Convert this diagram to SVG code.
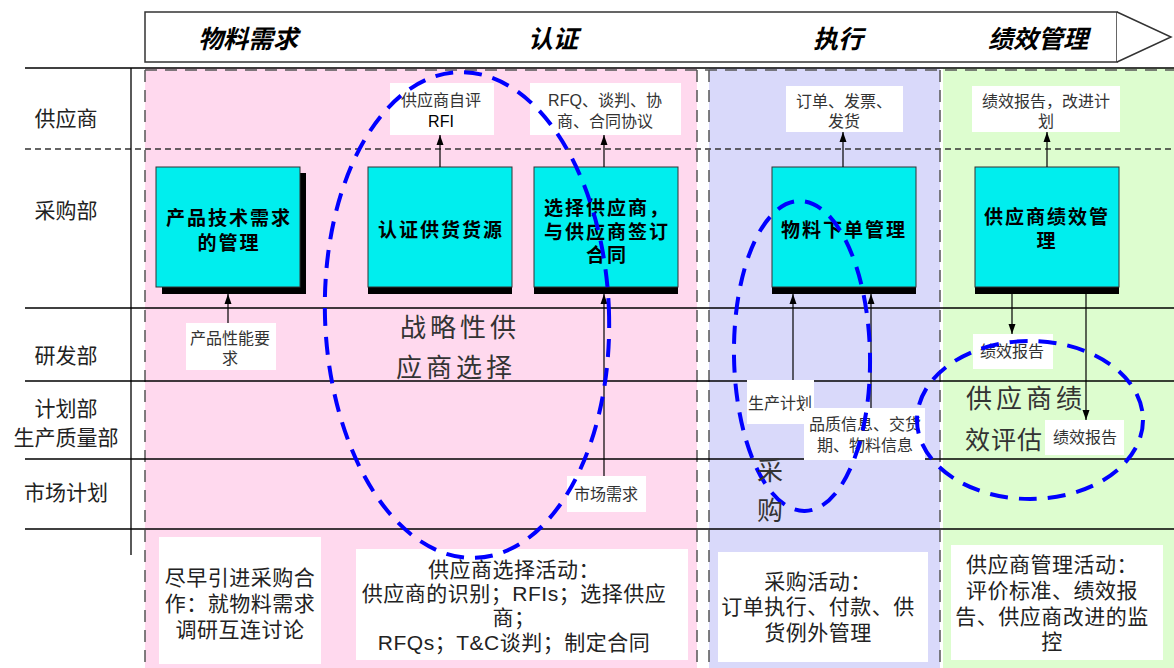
<svg xmlns="http://www.w3.org/2000/svg" width="1174" height="668" viewBox="0 0 1174 668">
<defs>
<marker id="ah" viewBox="0 0 10 10" refX="10" refY="5" markerWidth="10" markerHeight="10" markerUnits="userSpaceOnUse" orient="auto">
<path d="M0,1.5 L10,5 L0,8.5 Z" fill="#000"/>
</marker>
<style>
.t{font-family:"Liberation Sans","Noto Sans CJK SC",sans-serif;fill:#222;text-anchor:middle}
.hd{font-family:"Liberation Sans","Noto Sans CJK SC",sans-serif;font-size:25px;font-style:italic;font-weight:bold;fill:#000;text-anchor:middle}
.row{font-size:21px}
.bx{font-family:"Liberation Sans","Noto Sans CJK SC",sans-serif;font-size:19px;font-weight:bold;fill:#000;text-anchor:middle;letter-spacing:2px}
.sm{font-size:16px;fill:#333}
.big{font-size:26px;fill:#333;letter-spacing:4px}
.bt{font-size:21px;fill:#222;letter-spacing:0.5px}
.lbl{fill:#fff}
.node{fill:#00EEEE;stroke:#333;stroke-width:1}
.sh{fill:#000}
.grid{stroke:#000;stroke-width:1.3;fill:none}
.dash{stroke:#333;stroke-width:1.3;stroke-dasharray:6,4;fill:none}
.col{stroke:#555;stroke-width:1.5;stroke-dasharray:12,8;fill:none}
.ell{fill:none;stroke:#0000FF;stroke-width:4;stroke-dasharray:18,11}
.ar{stroke:#000;stroke-width:1.2;fill:none;marker-end:url(#ah)}
</style>
</defs>
<rect width="1174" height="668" fill="#fff"/>
<!-- column backgrounds -->
<rect x="145" y="68" width="552" height="600" fill="#FFD9EE"/>
<rect x="709" y="68" width="231" height="600" fill="#D9D9FA"/>
<rect x="943" y="68" width="231" height="600" fill="#DDFDCF"/>
<g id="columns">
<line class="col" x1="145" y1="70" x2="145" y2="668"/>
<line class="col" x1="697" y1="70" x2="697" y2="668"/>
<line class="col" x1="709" y1="70" x2="709" y2="668"/>
<line class="col" x1="940" y1="70" x2="940" y2="668"/>
<line class="col" x1="145" y1="70" x2="1174" y2="70"/>
</g>
<!-- header arrow -->
<g id="header">
<rect x="145" y="12" width="972" height="50" fill="#fff" stroke="#333" stroke-width="1.5"/>
<polyline points="1117,12 1171,37 1117,62" fill="#fff" stroke="#333" stroke-width="1.5"/>
<text class="hd" x="248" y="48">物料需求</text>
<text class="hd" x="553" y="48">认证</text>
<text class="hd" x="838" y="48">执行</text>
<text class="hd" x="1038" y="48">绩效管理</text>
</g>
<!-- grid -->
<g id="grid">
<line class="grid" x1="25" y1="68" x2="1174" y2="68"/>
<line class="dash" x1="25" y1="149" x2="1174" y2="149"/>
<line class="grid" x1="25" y1="308" x2="1174" y2="308"/>
<line class="grid" x1="25" y1="381" x2="1174" y2="381"/>
<line class="grid" x1="25" y1="459" x2="1174" y2="459"/>
<line class="grid" x1="25" y1="529" x2="1174" y2="529"/>
<line class="grid" x1="131" y1="68" x2="131" y2="555"/>
</g>
<!-- row labels -->
<g id="rows">
<text class="t row" x="66" y="126">供应商</text>
<text class="t row" x="66" y="218">采购部</text>
<text class="t row" x="66" y="363">研发部</text>
<text class="t row" x="66" y="416">计划部</text>
<text class="t row" x="66" y="445">生产质量部</text>
<text class="t row" x="66" y="500">市场计划</text>
</g>
<!-- bottom activity boxes -->
<g id="act1">
<rect class="lbl" x="159" y="537" width="162" height="127"/>
<text class="t bt" x="240" y="585">尽早引进采购合</text>
<text class="t bt" x="240" y="611">作：就物料需求</text>
<text class="t bt" x="240" y="637">调研互连讨论</text>
</g>
<g id="act2">
<rect class="lbl" x="356" y="549" width="332" height="111"/>
<text class="t bt" x="514" y="577">供应商选择活动：</text>
<text class="t bt" x="514" y="601">供应商的识别；RFIs；选择供应</text>
<text class="t bt" x="514" y="625">商；</text>
<text class="t bt" x="514" y="650">RFQs；T&amp;C谈判；制定合同</text>
</g>
<g id="act3">
<rect class="lbl" x="718" y="552" width="210" height="110"/>
<text class="t bt" x="818" y="589">采购活动：</text>
<text class="t bt" x="818" y="614">订单执行、付款、供</text>
<text class="t bt" x="818" y="640">货例外管理</text>
</g>
<g id="act4">
<rect class="lbl" x="951" y="545" width="212" height="115"/>
<text class="t bt" x="1052" y="572">供应商管理活动：</text>
<text class="t bt" x="1052" y="598">评价标准、绩效报</text>
<text class="t bt" x="1052" y="624">告、供应商改进的监</text>
<text class="t bt" x="1052" y="649">控</text>
</g>
<!-- process boxes -->
<g id="box1">
<rect class="sh" x="162" y="173" width="144" height="121"/>
<rect class="node" x="156" y="167" width="144" height="120"/>
<text class="bx" x="229" y="225">产品技术需求</text>
<text class="bx" x="229" y="250">的管理</text>
</g>
<g id="box2">
<rect class="sh" x="368" y="280" width="144" height="14"/>
<rect class="node" x="368" y="167" width="144" height="120"/>
<text class="bx" x="441" y="237">认证供货货源</text>
</g>
<g id="box3">
<rect class="sh" x="534" y="280" width="144" height="14"/>
<rect class="node" x="534" y="167" width="144" height="120"/>
<text class="bx" x="607" y="215">选择供应商，</text>
<text class="bx" x="607" y="239">与供应商签订</text>
<text class="bx" x="607" y="262">合同</text>
</g>
<g id="box4">
<rect class="sh" x="772" y="280" width="144" height="14"/>
<rect class="node" x="772" y="167" width="144" height="120"/>
<text class="bx" x="844" y="237">物料下单管理</text>
</g>
<g id="box5">
<rect class="sh" x="975" y="280" width="144" height="14"/>
<rect class="node" x="975" y="167" width="144" height="120"/>
<text class="bx" x="1047" y="224">供应商绩效管</text>
<text class="bx" x="1047" y="248">理</text>
</g>
<!-- connectors -->
<g id="connectors">
<line class="ar" x1="440" y1="167" x2="440" y2="135"/>
<line class="ar" x1="604" y1="167" x2="604" y2="135"/>
<line class="ar" x1="843" y1="167" x2="843" y2="132"/>
<line class="ar" x1="1047" y1="167" x2="1047" y2="132"/>
<line class="ar" x1="228" y1="323" x2="228" y2="294"/>
<line class="ar" x1="604" y1="476" x2="604" y2="294"/>
<line class="ar" x1="793" y1="380" x2="793" y2="294"/>
<line class="ar" x1="871" y1="408" x2="871" y2="294"/>
<line class="ar" x1="1012" y1="294" x2="1012" y2="334"/>
<line class="ar" x1="1086" y1="294" x2="1086" y2="420"/>
</g>
<!-- small labels -->
<g id="lab1">
<rect class="lbl" x="390" y="83" width="104" height="52"/>
<text class="t sm" x="441" y="106">供应商自评</text>
<text class="t sm" x="441" y="127" style="fill:#000">RFI</text>
</g>
<g id="lab2">
<rect class="lbl" x="530" y="83" width="151" height="52"/>
<text class="t sm" x="605" y="106">RFQ、谈判、协</text>
<text class="t sm" x="605" y="127">商、合同协议</text>
</g>
<g id="lab3">
<rect class="lbl" x="786" y="86" width="117" height="46"/>
<text class="t sm" x="844" y="107">订单、发票、</text>
<text class="t sm" x="844" y="127">发货</text>
</g>
<g id="lab4">
<rect class="lbl" x="972" y="86" width="148" height="46"/>
<text class="t sm" x="1046" y="107">绩效报告，改进计</text>
<text class="t sm" x="1046" y="127">划</text>
</g>
<g id="lab5">
<rect class="lbl" x="186" y="323" width="90" height="47"/>
<text class="t sm" x="230" y="344">产品性能要</text>
<text class="t sm" x="230" y="364">求</text>
</g>
<g id="lab6">
<rect class="lbl" x="567" y="476" width="79" height="36"/>
<text class="t sm" x="606" y="500">市场需求</text>
</g>
<g id="lab7">
<rect class="lbl" x="747" y="380" width="67" height="44"/>
<text class="t sm" x="780" y="409">生产计划</text>
</g>
<g id="lab8">
<rect class="lbl" x="804" y="408" width="121" height="52"/>
<text class="t sm" x="865" y="430">品质信息、交货</text>
<text class="t sm" x="865" y="451">期、物料信息</text>
</g>
<g id="lab9">
<rect class="lbl" x="973" y="334" width="80" height="35"/>
<text class="t sm" x="1012" y="357">绩效报告</text>
</g>
<g id="lab10">
<rect class="lbl" x="1045" y="420" width="79" height="35"/>
<text class="t sm" x="1085" y="443">绩效报告</text>
</g>
<!-- dashed ellipses and their texts -->
<g id="strategic">
<ellipse class="ell" cx="467" cy="315" rx="142" ry="243" transform="rotate(-2 467 315)"/>
<text class="t big" x="460" y="337">战略性供</text>
<text class="t big" x="456" y="377">应商选择</text>
</g>
<g id="purchase">
<ellipse class="ell" cx="802" cy="356" rx="68" ry="155" transform="rotate(-1 802 356)"/>
<text class="t big" x="772" y="480">采</text>
<text class="t big" x="772" y="520">购</text>
</g>
<g id="evaluation">
<ellipse class="ell" cx="1030" cy="420" rx="113" ry="79"/>
<text class="t big" x="1026" y="408">供应商绩</text>
<text class="t big" x="1004" y="449" style="letter-spacing:1px;font-size:25px">效评估</text>
</g>
</svg>
